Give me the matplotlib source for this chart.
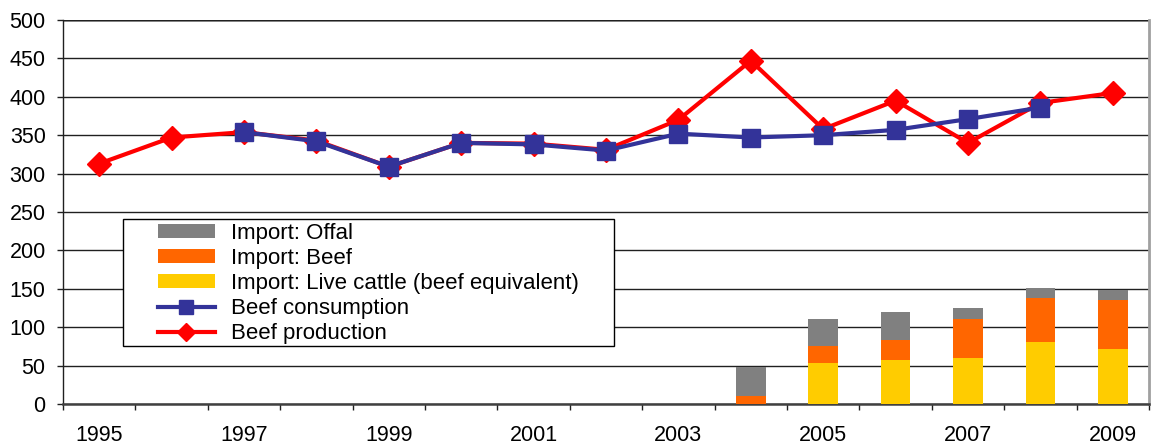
import numpy as np
import matplotlib.pyplot as plt
from matplotlib.patches import Rectangle

plt.rcParams['font.family'] = ['Liberation Sans', 'DejaVu Sans']

# data
years = list(range(1995, 2010))
production = [313, 347, 354, 343, 309, 340, 339, 331, 370, 447, 358, 395, 340, 392, 405]
consumption = [None, None, 354, 342, 309, 340, 338, 330, 352, 347, 350, 357, 371, 386, None]

bar_years = [2004, 2005, 2006, 2007, 2008, 2009]
live_cattle = [0, 54, 57, 60, 81, 71]
beef_import = [11, 21, 26, 51, 57, 65]
offal = [37, 36, 37, 14, 13, 12]

x = np.arange(len(years))
bx = np.array([years.index(y) for y in bar_years])
cons = np.array([np.nan if v is None else v for v in consumption], dtype=float)

fig = plt.figure(figsize=(11.52, 4.45), dpi=100)
ax = fig.add_axes([63 / 1152, 1 - 404 / 445, (1149 - 63) / 1152, (404 - 20) / 445])

w = 0.41
b_off = ax.bar(bx, offal, w, bottom=np.array(live_cattle) + np.array(beef_import),
               color='#808080', zorder=3)
b_beef = ax.bar(bx, beef_import, w, bottom=live_cattle, color='#FF6600', zorder=3)
b_live = ax.bar(bx, live_cattle, w, color='#FFCC00', zorder=3)
l_prod, = ax.plot(x, production, color='#FF0000', lw=3, marker='D', ms=12, zorder=4)
l_cons, = ax.plot(x, cons, color='#333399', lw=3, marker='s', ms=12.5, zorder=5)

ax.set_ylim(0, 500)
ax.set_yticks(range(0, 501, 50))
ax.set_xlim(-0.5, len(years) - 0.5)
ax.set_xticks(x[::2])
ax.set_xticklabels([str(y) for y in years[::2]])
ax.set_xticks(np.arange(-0.5, len(years)), minor=True)
ax.tick_params(axis='x', which='major', length=0, pad=15, labelsize=15.5)
ax.tick_params(axis='x', which='minor', length=4.5, width=1, color='#202020')
ax.tick_params(axis='y', length=4, width=1, color='#202020', pad=8.5, labelsize=15.5)

ax.grid(axis='y', color='#202020', lw=1, zorder=0)
ax.axhline(500, color='#909090', lw=2, zorder=1)
ax.spines['top'].set_visible(False)
ax.spines['left'].set_color('#202020')
ax.spines['left'].set_linewidth(1)
ax.spines['right'].set_color('#A0A0A0')
ax.spines['right'].set_linewidth(2)
ax.spines['bottom'].set_color('#404040')
ax.spines['bottom'].set_linewidth(1.8)

# legend box
box = Rectangle((123 / 1152, 1 - 346 / 445), (614 - 123) / 1152, (346 - 219) / 445,
                transform=fig.transFigure, facecolor='white', edgecolor='black',
                lw=1, zorder=6)
ax.add_patch(box)
box.set_clip_on(False)

handles = [b_off, b_beef, b_live, l_cons, l_prod]
labels = ['Import: Offal', 'Import: Beef', 'Import: Live cattle (beef equivalent)',
          'Beef consumption', 'Beef production']
leg = ax.legend(handles, labels, loc='upper left',
                bbox_to_anchor=(158 / 1152, 1 - 223 / 445), bbox_transform=fig.transFigure,
                fontsize=16, frameon=False, handlelength=2.55, handleheight=0.6,
                handletextpad=0.75, borderpad=0, labelspacing=0.185, borderaxespad=0,
                markerscale=0.8)
leg.set_zorder(7)

fig.savefig('out.png', dpi=100)
